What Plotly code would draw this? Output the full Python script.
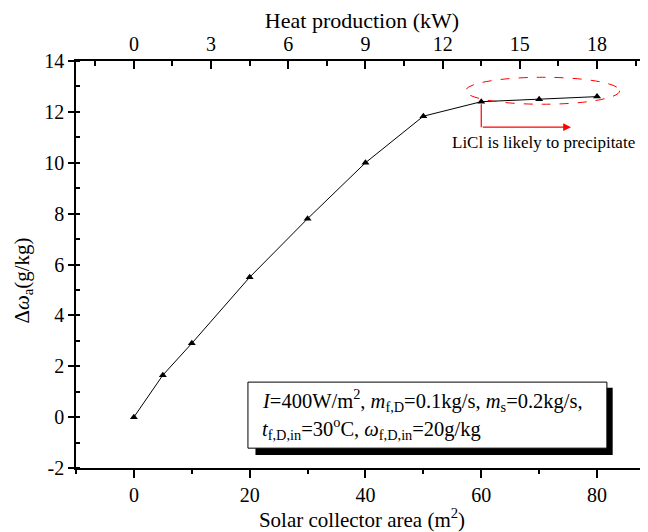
import plotly.graph_objects as go

# Data
area = [0, 5, 10, 20, 30, 40, 50, 60, 70, 80]          # Solar collector area (m2)
d_omega = [0.0, 1.65, 2.9, 5.5, 7.8, 10.0, 11.83, 12.4, 12.5, 12.6]  # g/kg
kw_per_m2 = 0.225                                      # heat production per m2 (kW)
x_ticks = [0, 20, 40, 60, 80]
y_ticks = [-2, 0, 2, 4, 6, 8, 10, 12, 14]
y_tick_text = ["-2", "0", "2", "4", "6", "8", "10", "12", "14"]
top_ticks = [0, 3, 6, 9, 12, 15, 18]

FONT = "Liberation Serif"
TICK = 20
TITLE = 21
x_range = [-10, 88.8]
y_range = [-2, 14]

fig = go.Figure()
fig.add_trace(go.Scatter(
    x=area, y=d_omega, mode="lines+markers",
    line=dict(color="black", width=1),
    marker=dict(symbol="triangle-up", size=7, color="black"),
    showlegend=False, hoverinfo="skip"))
# invisible trace for the top / right axes
fig.add_trace(go.Scatter(
    x=[a * kw_per_m2 for a in area], y=d_omega, xaxis="x2", yaxis="y2",
    mode="markers", marker=dict(opacity=0), showlegend=False, hoverinfo="skip"))

# page body has an 8px margin, so the figure is drawn 8px smaller and offset
fig.update_layout(
    width=640, height=524,
    margin=dict(l=68, r=0, t=53, b=64),
    paper_bgcolor="white", plot_bgcolor="white",
    font=dict(family=FONT, size=TICK, color="black"),
    xaxis=dict(
        range=x_range, tickmode="array", tickvals=x_ticks, automargin=False,
        tickfont=dict(family=FONT, size=TICK),
        showgrid=False, zeroline=False, showline=True, linecolor="black", linewidth=1.5,
        ticks="outside", ticklen=8, tickwidth=1.5, tickcolor="black",
        minor=dict(dtick=10, tick0=0, ticks="outside", ticklen=4, tickwidth=1.5, tickcolor="black"),
        title=dict(text="Solar collector area (m<sup>2</sup>)", standoff=4,
                   font=dict(family=FONT, size=TITLE)),
    ),
    xaxis2=dict(
        overlaying="x", side="top", automargin=False,
        range=[x_range[0] * kw_per_m2, x_range[1] * kw_per_m2],
        tickmode="array", tickvals=top_ticks, tickfont=dict(family=FONT, size=TICK),
        showgrid=False, zeroline=False, showline=True, linecolor="black", linewidth=1.5,
        ticks="inside", ticklen=8, tickwidth=1.5, tickcolor="black",
        minor=dict(dtick=1.5, tick0=0, ticks="inside", ticklen=5, tickwidth=1.5, tickcolor="black"),
        title=dict(text="Heat production (kW)", standoff=2, font=dict(family=FONT, size=22)),
    ),
    yaxis=dict(
        range=y_range, tickmode="array", tickvals=y_ticks, ticktext=y_tick_text,
        automargin=False, tickfont=dict(family=FONT, size=TICK),
        showgrid=False, zeroline=False, showline=True, linecolor="black", linewidth=1.5,
        ticks="outside", ticklen=6, tickwidth=1.5, tickcolor="black",
        minor=dict(dtick=1, tick0=0, ticks="inside", ticklen=4, tickwidth=1.5, tickcolor="black"),
    ),
    yaxis2=dict(
        overlaying="y", side="right", range=y_range, tickmode="array", tickvals=y_ticks,
        automargin=False,
        showticklabels=False, showgrid=False, zeroline=False, showline=False,
        ticks="inside", ticklen=8, tickwidth=1.5, tickcolor="black",
    ),
)

# y-axis title (placed as annotation to match vertical position)
fig.add_annotation(x=-0.093, y=0.46, xref="paper", yref="paper", showarrow=False,
                   textangle=-90, xanchor="center", yanchor="middle",
                   text="Δ<i>ω</i><sub>a</sub>(g/kg)", font=dict(family=FONT, size=TITLE))

# red dashed ellipse around plateau
fig.add_shape(type="circle", xref="x", yref="y", x0=57.3, x1=83.9, y0=12.3, y1=13.36,
              line=dict(color="red", width=1, dash="dash"))
# red bracket arrow
fig.add_shape(type="line", xref="x", yref="y", x0=60, x1=60, y0=12.3, y1=11.4,
              line=dict(color="red", width=1.2))
fig.add_annotation(x=75.5, y=11.4, ax=60, ay=11.4, xref="x", yref="y", axref="x", ayref="y",
                   text="", showarrow=True, arrowhead=2, arrowsize=1.3, arrowwidth=1.2,
                   arrowcolor="red")
fig.add_annotation(x=70.8, y=10.78, xref="x", yref="y", showarrow=False,
                   text="LiCl is likely to precipitate", font=dict(family=FONT, size=17))

# info box with shadow
fig.add_shape(type="rect", xref="x", yref="y", x0=21.0, x1=82.7, y0=-1.49, y1=1.15,
              fillcolor="black", line=dict(width=0))
fig.add_shape(type="rect", xref="x", yref="y", x0=19.7, x1=81.7, y0=-1.22, y1=1.376,
              fillcolor="white", line=dict(color="black", width=1))
fig.add_annotation(x=21.7, y=0.66, xref="x", yref="y", xanchor="left", showarrow=False,
                   text="<i>I</i>=400W/m<sup>2</sup>, <i>m</i><sub>f,D</sub>=0.1kg/s, <i>m</i><sub>s</sub>=0.2kg/s,",
                   font=dict(family=FONT, size=20.5))
fig.add_annotation(x=21.7, y=-0.45, xref="x", yref="y", xanchor="left", showarrow=False,
                   text="<i>t</i><sub>f,D,in</sub>=30<sup>o</sup>C, <i>ω</i><sub>f,D,in</sub>=20g/kg",
                   font=dict(family=FONT, size=20.5))

fig.write_html("out.html")
